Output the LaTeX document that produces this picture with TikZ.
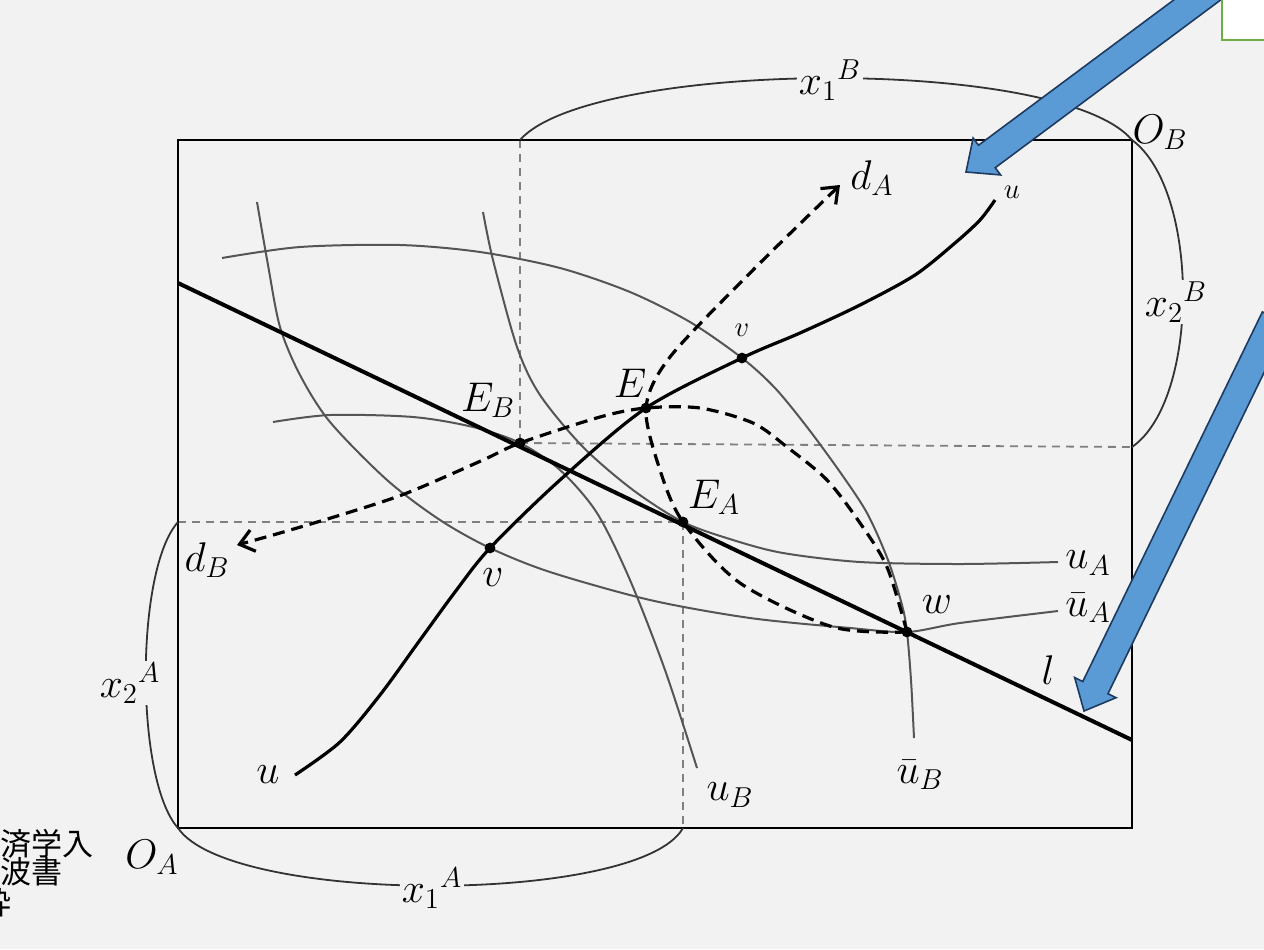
\documentclass[tikz,border=0pt]{standalone}
\usepackage{fontspec}
\newfontfamily\jpfont{Noto Sans CJK JP}
\usetikzlibrary{calc,arrows.meta}
\definecolor{scanbg}{HTML}{F2F2F2}
\definecolor{curvegray}{HTML}{555555}
\definecolor{arrowfill}{HTML}{5B9BD5}
\definecolor{arrowline}{HTML}{1F3A5F}
\definecolor{boxgreen}{HTML}{70AD47}

\tikzset{
  indiff/.style={curvegray, line width=1pt},
  budget/.style={black, line width=2pt},
  contract/.style={black, line width=1.6pt},
  offer/.style={black, line width=1.6pt, dash pattern=on 6pt off 3.5pt},
  guide/.style={gray, line width=0.9pt, dash pattern=on 4pt off 3pt},
  brace/.style={black!80, line width=0.9pt},
  lbl/.style={font=\fontsize{20}{24}\selectfont, inner sep=1pt},
  lblsmall/.style={font=\fontsize{15}{18}\selectfont, inner sep=1pt},
  jptext/.style={font=\jpfont\fontsize{15.5}{18}\selectfont, anchor=west, inner sep=0pt},
}

% block arrow from #1 to tip #2
\newcommand{\bluearrow}[2]{%
  \coordinate (ah) at ($(#2)!13pt!(#1)$);
  \filldraw[fill=arrowfill, draw=arrowline, line width=0.8pt, line join=miter]
    ($(#1)!7pt!90:(#2)$) -- ($(ah)!7pt!90:(#2)$) -- ($(ah)!11.5pt!90:(#2)$)
    -- (#2) -- ($(ah)!11.5pt!-90:(#2)$) -- ($(ah)!7pt!-90:(#2)$)
    -- ($(#1)!7pt!-90:(#2)$) -- cycle;}

\begin{document}
\begin{tikzpicture}[x=0.5pt, y=-0.5pt]
  \useasboundingbox (0,0) rectangle (1264,949);
  \fill[scanbg] (0,0) rectangle (1264,949);

  % Points
  \coordinate (OA) at (178,828);
  \coordinate (OB) at (1132,140);
  \coordinate (EB) at (520,443);
  \coordinate (E) at (646,408);
  \coordinate (EA) at (683,522);
  \coordinate (w) at (907,632);
  \coordinate (vU) at (742,358);
  \coordinate (vL) at (490,548);
  \coordinate (lL) at (178,283);
  \coordinate (lR) at (1132,740);
  \coordinate (x1Btop) at (EB |- OB);
  \coordinate (x2Bright) at (1132,447);
  \coordinate (x2Aleft) at (OA |- EA);
  \coordinate (x1Aright) at (EA |- OA);

  % Lens between the two curves through w
  \fill[black!5] plot[smooth] coordinates {(266,250) (300,247) (400,245) (480,252) (560,268) (630,292) (690,322) (vU) (775,388) (807,427) (840,472) (867,513) (888,560) (902,605) (w)}
    -- plot[smooth] coordinates {(w) (850,628) (750,618) (650,600) (550,572) (vL) (440,520) (387,480) (330,422) (300,375) (280,327) (266,250)} -- cycle;

  % Guides
  \draw[guide] (x1Btop) -- (EB);
  \draw[guide] (EB) -- (x2Bright);
  \draw[guide] (x2Aleft) -- (EA);
  \draw[guide] (EA) -- (x1Aright);

  % Box
  \draw[line width=1.3pt] (OA) rectangle (OB);

  % Brackets
  \draw[brace] (x1Btop) .. controls (590,60) and (1060,55) .. (OB);
  \draw[brace] (OB) .. controls (1200,190) and (1200,400) .. (x2Bright);
  \draw[brace] (x2Aleft) .. controls (135,570) and (135,780) .. (OA);
  \draw[brace] (OA) .. controls (230,905) and (640,905) .. (x1Aright);
  \node[lbl, fill=scanbg] (lx1B) at (830,80) {$x_1{}^B$};
  \node[lbl, fill=scanbg] (lx2B) at (1176,302) {$x_2{}^B$};
  \node[lbl, fill=scanbg] (lx2A) at (130,683) {$x_2{}^A$};
  \node[lbl, fill=scanbg] (lx1A) at (432,888) {$x_1{}^A$};

  % Indifference curves
  \draw[indiff] plot[smooth] coordinates {(257,202) (268,265) (280,327) (300,375) (330,422) (387,480) (440,520) (vL) (550,572) (650,600) (750,618) (850,628) (w) (960,623) (1058,611)};
  \draw[indiff] plot[smooth] coordinates {(483,212) (493,260) (517,347) (540,395) (583,447) (633,490) (EA) (733,540) (783,553) (860,562) (960,564) (1058,562)};
  \draw[indiff] plot[smooth] coordinates {(273,422) (330,415) (413,417) (473,427) (EB) (560,470) (597,513) (630,580) (665,670) (697,768)};
  \draw[indiff] plot[smooth] coordinates {(222,258) (300,247) (400,245) (480,252) (560,268) (630,292) (690,322) (vU) (775,388) (807,427) (840,472) (867,513) (888,560) (902,605) (w) (911,680) (914,738)};

  % Price line and contract curve
  \draw[budget] (lL) -- (lR);
  \draw[contract] plot[smooth] coordinates {(295,775) (340,742) (380,695) (420,640) (455,592) (vL) (560,480) (E) (vU) (800,333) (860,305) (915,275) (955,243) (980,220) (995,200)};

  % Offer curves
  \draw[offer, -{Straight Barb[length=7pt,width=11pt]}] plot[smooth] coordinates {(w) (833,627) (740,583) (EA) (660,470) (E) (670,357) (753,270) (840,185)};
  \draw[offer, -{Straight Barb[length=7pt,width=11pt]}] plot[smooth] coordinates {(w) (887,567) (860,523) (827,480) (787,447) (753,423) (700,408) (E) (600,417) (EB) (483,460) (407,493) (347,513) (280,533) (237,545)};

  % Dots
  \foreach \p in {EB,E,EA,w,vU,vL}
    \fill (\p) circle (2.7pt);

  % Labels
  \node[lbl] (lOA) at (152,857) {$O_A$};
  \node[lbl] (lOB) at (1160,132) {$O_B$};
  \node[lbl] (ldA) at (872,178) {$d_A$};
  \node[lbl] (ldB) at (207,560) {$d_B$};
  \node[lblsmall] (luU) at (1012,192) {$u$};
  \node[lbl] (luL) at (268,775) {$u$};
  \node[lblsmall] (lvU) at (742,330) {$v$};
  \node[lbl] (lvL) at (493,578) {$v$};
  \node[lbl] (lE) at (630,383) {$E$};
  \node[lbl] (lEB) at (488,400) {$E_B$};
  \node[lbl] (lEA) at (714,497) {$E_A$};
  \node[lbl] (luB) at (730,795) {$u_B$};
  \node[lbl] (lubB) at (920,775) {$\bar u_B$};
  \node[lbl] (lw) at (937,605) {$w$};
  \node[lbl] (luA) at (1088,563) {$u_A$};
  \node[lbl] (lubA) at (1088,608) {$\bar u_A$};
  \node[lbl] (ll) at (1048,670) {$l$};

  % Source note, cut at the left edge
  \node[jptext] (jp1) at (0,844) {済学入};
  \node[jptext] (jp2) at (0,872) {波書};
  \node[jptext] (jp3) at (-20,903) {粋};

  % Pointers
  \bluearrow{1224,-20}{966,172}
  \bluearrow{1275,318}{1084,711}
  \filldraw[fill=white, draw=boxgreen, line width=1pt] (1222,-5) rectangle (1270,40);
\end{tikzpicture}
\end{document}
